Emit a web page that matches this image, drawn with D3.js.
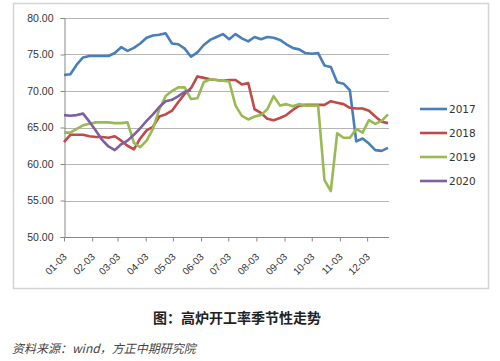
<!DOCTYPE html>
<html>
<head>
<meta charset="utf-8">
<script src="https://cdn.jsdelivr.net/npm/d3@7"></script>
<style>
  body { margin: 0; background: #fff; }
  svg { display: block; }
</style>
</head>
<body>
<div id="chart"></div>
<script>
// weekly dates (month-day)
const weeks = [
  "01-03","01-10","01-17","01-24","01-31","02-07","02-14","02-21","02-28",
  "03-07","03-14","03-21","03-28","04-04","04-11","04-18","04-25",
  "05-02","05-09","05-16","05-23","05-30","06-06","06-13","06-20","06-27",
  "07-04","07-11","07-18","07-25","08-01","08-08","08-15","08-22","08-29",
  "09-05","09-12","09-19","09-26","10-03","10-10","10-17","10-24","10-31",
  "11-07","11-14","11-21","11-28","12-05","12-12","12-19","12-26"
];
const monthTicks = ["01-03","02-03","03-03","04-03","05-03","06-03","07-03","08-03","09-03","10-03","11-03","12-03"];
const yTicks = [50, 55, 60, 65, 70, 75, 80];

const v2017 = [72.2,72.3,73.6,74.6,74.8,74.8,74.8,74.8,75.2,76.0,75.5,75.9,76.5,77.3,77.6,77.7,77.9,
  76.5,76.4,75.8,74.7,75.3,76.3,77.0,77.4,77.8,77.1,77.8,77.2,76.8,77.4,77.1,77.4,77.3,77.0,
  76.4,75.9,75.7,75.2,75.1,75.2,73.5,73.3,71.2,71.0,70.1,63.1,63.5,62.8,61.9,61.8,62.2];
const v2018 = [63.0,64.0,64.0,64.0,63.8,63.7,63.7,63.6,63.8,63.2,62.5,62.0,63.5,64.6,65.1,66.5,66.8,
  67.3,68.5,69.6,70.4,72.0,71.8,71.6,71.5,71.4,71.5,71.5,70.9,71.1,67.5,67.0,66.2,66.0,66.3,
  66.7,67.4,68.0,68.1,68.1,68.1,68.1,68.6,68.4,68.2,67.7,67.6,67.6,67.3,66.5,65.8,65.6];
const v2019 = [64.3,64.3,64.8,65.3,65.5,65.7,65.7,65.7,65.6,65.6,65.7,62.9,62.3,63.2,64.8,67.5,69.3,
  70.0,70.5,70.5,68.9,69.0,71.2,71.6,71.5,71.4,71.3,68.0,66.6,66.1,66.5,66.7,67.5,69.3,68.0,
  68.2,67.9,68.2,68.0,68.0,68.0,57.8,56.3,64.2,63.6,63.6,64.8,64.3,66.0,65.5,65.9,66.8];
const v2020 = [66.7,66.6,66.7,66.9,65.8,64.6,63.3,62.4,61.9,62.7,63.2,64.0,64.9,65.9,66.8,67.8,68.6,
  68.8,69.3,69.9,70.1];

const seriesNames = ["2017", "2018", "2019", "2020"];
const seriesValues = [v2017, v2018, v2019, v2020];
const colors = ["#4a7ebb", "#be4b48", "#98b954", "#7d60a0"];

const W = 500, H = 361;
const plot = { left: 64, right: 388, top: 18, bottom: 237 };

const parse = d3.timeParse("%Y-%m-%d");
const toDate = s => parse("2019-" + s);

const svg = d3.select("#chart").append("svg")
  .attr("width", W).attr("height", H)
  .style("font-family", "'DejaVu Sans', sans-serif");

// outer frame
svg.append("rect")
  .attr("x", 13.5).attr("y", 3.5)
  .attr("width", 475).attr("height", 285)
  .attr("fill", "#fff")
  .attr("stroke", "#d4d4d4").attr("stroke-width", 1.5);

const x = d3.scaleTime()
  .domain([toDate(weeks[0]), toDate(weeks[weeks.length - 1])])
  .range([plot.left, plot.right]);
const y = d3.scaleLinear().domain([50, 80]).range([plot.bottom, plot.top]);

// gridlines
svg.append("g")
  .selectAll("line")
  .data(yTicks.filter(d => d > 50))
  .join("line")
  .attr("x1", plot.left).attr("x2", plot.right + 1)
  .attr("y1", d => Math.round(y(d)) + 0.5).attr("y2", d => Math.round(y(d)) + 0.5)
  .attr("stroke", "#b5b5b5");

// y axis
const yAxis = svg.append("g")
  .attr("transform", `translate(${plot.left + 0.5},0)`)
  .call(d3.axisLeft(y).tickValues(yTicks).tickFormat(d3.format(".2f")).tickSize(4).tickPadding(7));
yAxis.select(".domain").attr("stroke", "#888");
yAxis.selectAll(".tick line").attr("stroke", "#888");
yAxis.selectAll("text").attr("font-size", 10.5).attr("fill", "#333");

// x axis
const xAxis = svg.append("g")
  .attr("transform", `translate(0,${Math.round(plot.bottom) + 0.5})`)
  .call(d3.axisBottom(x).tickValues(monthTicks.map(toDate)).tickFormat(d3.timeFormat("%m-%d")).tickSize(4).tickSizeOuter(0));
xAxis.select(".domain").attr("stroke", "#888").attr("d", `M${plot.left},0H${plot.right + 1}`);
xAxis.selectAll(".tick line").attr("stroke", "#888");
xAxis.selectAll("text")
  .attr("font-size", 10).attr("fill", "#333")
  .attr("text-anchor", "end")
  .attr("x", 0).attr("y", 0).attr("dx", 0).attr("dy", 0)
  .attr("transform", "translate(3,20) rotate(-45)");

// lines
const line = d3.line()
  .x((d, i) => x(toDate(weeks[i])))
  .y(d => y(d));

svg.append("g")
  .selectAll("path")
  .data(seriesValues)
  .join("path")
  .attr("d", d => line(d))
  .attr("fill", "none")
  .attr("stroke", (d, i) => colors[i])
  .attr("stroke-width", 2.6)
  .attr("stroke-linejoin", "round");

// legend
const legend = svg.append("g")
  .selectAll("g")
  .data(seriesNames)
  .join("g")
  .attr("transform", (d, i) => `translate(420,${109 + i * 24})`);
legend.append("line")
  .attr("x1", 0).attr("x2", 27)
  .attr("stroke", (d, i) => colors[i]).attr("stroke-width", 2.6);
legend.append("text")
  .attr("x", 29).attr("dy", "0.35em")
  .attr("font-size", 10.5).attr("fill", "#333")
  .text(d => d);

// caption
svg.append("text")
  .attr("x", 237).attr("y", 323)
  .attr("text-anchor", "middle")
  .attr("font-family", "'Noto Sans CJK SC', sans-serif")
  .attr("font-weight", "bold")
  .attr("font-size", 14)
  .attr("fill", "#222")
  .text("图：高炉开工率季节性走势");

svg.append("text")
  .attr("x", 12).attr("y", 353)
  .attr("font-family", "'Noto Sans CJK SC', sans-serif")
  .attr("font-style", "italic")
  .attr("font-size", 12)
  .attr("fill", "#444")
  .text("资料来源：wind，方正中期研究院");
</script>
</body>
</html>
